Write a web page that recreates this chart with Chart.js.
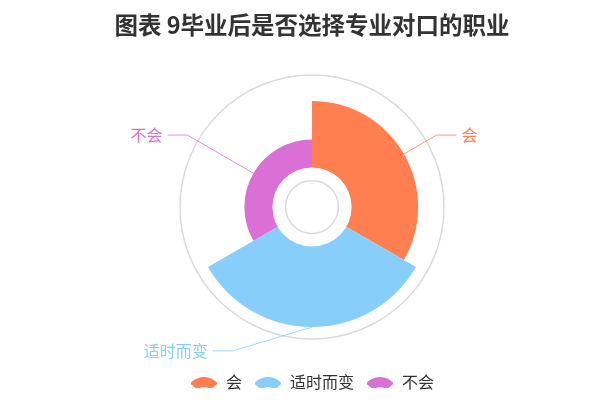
<!DOCTYPE html>
<html>
<head>
<meta charset="utf-8">
<script src="https://cdn.jsdelivr.net/npm/chart.js@4/dist/chart.umd.min.js"></script>
<style>
  html, body { margin: 0; padding: 0; background: #fff; }
  #wrap { width: 600px; height: 400px; }
</style>
</head>
<body>
<div id="wrap"><canvas id="chart"></canvas></div>
<script>
const titleText = '图表 9毕业后是否选择专业对口的职业';
const categories = ['会', '适时而变', '不会'];
const values = [38, 46, 16];
const colors = ['#ff7f50', '#87cefa', '#da70d6'];

const FONT = "'Noto Sans CJK SC', 'Noto Sans', sans-serif";
// hole and outer rim as fractions of the radial drawing area
const innerFrac = 0.3;
const outerFrac = 0.91;
const ringFrac = 0.2;

const maxVal = Math.max(...values);
const span = maxVal / (outerFrac - innerFrac);
const rMin = -innerFrac * span;

function fanIcon(color) {
  const c = document.createElement('canvas');
  c.width = 26;
  c.height = 12;
  const g = c.getContext('2d');
  g.fillStyle = color;
  g.beginPath();
  g.arc(13, 19, 18, -Math.PI * 0.78, -Math.PI * 0.22);
  g.arc(13, 19, 8, -Math.PI * 0.22, -Math.PI * 0.78, true);
  g.closePath();
  g.fill();
  return c;
}

const rosePlugin = {
  id: 'rose',
  afterDatasetsDraw(chart) {
    const s = chart.scales.r;
    const ctx = chart.ctx;
    const cx = s.xCenter, cy = s.yCenter, D = s.drawingArea;
    ctx.save();
    ctx.fillStyle = '#fff';
    ctx.beginPath();
    ctx.arc(cx, cy, s.getDistanceFromCenterForValue(0), 0, Math.PI * 2);
    ctx.fill();
    ctx.strokeStyle = '#dadada';
    ctx.lineWidth = 1.5;
    ctx.beginPath();
    ctx.arc(cx, cy, D * ringFrac, 0, Math.PI * 2);
    ctx.stroke();
    ctx.beginPath();
    ctx.arc(cx, cy, D, 0, Math.PI * 2);
    ctx.stroke();

    // outside labels with elbow lines
    const meta = chart.getDatasetMeta(0);
    ctx.font = '16px ' + FONT;
    ctx.textBaseline = 'middle';
    ctx.lineWidth = 1;
    meta.data.forEach((arc, i) => {
      const mid = (arc.startAngle + arc.endAngle) / 2;
      const cos = Math.cos(mid), sin = Math.sin(mid);
      const re = D * 1.09;
      const x1 = cx + arc.outerRadius * cos, y1 = cy + arc.outerRadius * sin;
      let x2 = cx + re * cos;
      const y2 = cy + re * sin;
      const dir = cos > 0.2 ? 1 : -1;
      if (Math.abs(cos) < 0.2) x2 = cx - D * 0.6;
      const x3 = x2 + dir * 20;
      ctx.strokeStyle = colors[i];
      ctx.globalAlpha = 0.8;
      ctx.beginPath();
      ctx.moveTo(x1, y1);
      ctx.lineTo(x2, y2);
      ctx.lineTo(x3, y2);
      ctx.stroke();
      ctx.globalAlpha = 1;
      ctx.fillStyle = colors[i];
      ctx.textAlign = dir > 0 ? 'left' : 'right';
      ctx.fillText(categories[i], x3 + dir * 5, y2);
    });
    ctx.restore();
  }
};

new Chart(document.getElementById('chart'), {
  type: 'polarArea',
  data: {
    labels: categories,
    datasets: [{
      data: values,
      backgroundColor: colors,
      borderWidth: 0,
    }],
  },
  options: {
    responsive: true,
    maintainAspectRatio: false,
    animation: false,
    layout: { padding: { left: 24, bottom: 0 } },
    scales: {
      r: { display: false, min: rMin, max: rMin + span, startAngle: 0 },
    },
    plugins: {
      title: {
        display: true,
        text: titleText,
        color: '#333',
        font: { size: 23.5, weight: 'bold', family: FONT },
        padding: { top: 11, bottom: 36 },
      },
      legend: {
        position: 'bottom',
        onClick: null,
        title: { display: true, text: ' ', padding: { top: 8, bottom: 0 }, font: { size: 12 } },
        labels: {
          usePointStyle: true,
          pointStyleWidth: 28,
          padding: 12,
          color: '#333',
          font: { size: 16, family: FONT },
          generateLabels(chart) {
            const items = Chart.overrides.polarArea.plugins.legend.labels.generateLabels(chart);
            items.forEach((it, i) => { it.pointStyle = fanIcon(colors[i]); });
            return items;
          },
        },
      },
      tooltip: { enabled: false },
    },
  },
  plugins: [rosePlugin],
});
</script>
</body>
</html>
